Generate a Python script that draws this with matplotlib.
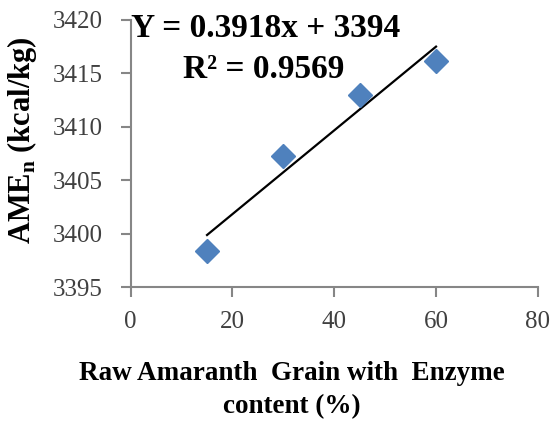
import numpy as np
import matplotlib.pyplot as plt

plt.rcParams['font.family'] = ['Liberation Serif', 'DejaVu Serif']
plt.rcParams['mathtext.fontset'] = 'custom'
plt.rcParams['mathtext.rm'] = 'Liberation Serif'
plt.rcParams['mathtext.bf'] = 'Liberation Serif:bold'

# data
enzyme_pct = [15, 30, 45, 60]
ame_n = [3398.4, 3407.3, 3413.0, 3416.2]
slope, intercept = 0.3918, 3394
eq_text = "Y = 0.3918x + 3394"
r2_text = "R² = 0.9569"

fig = plt.figure(figsize=(5.55, 4.21), dpi=100)
ax = fig.add_axes([0.2355, 0.318, 0.7335, 0.6345])

x_fit = np.array([min(enzyme_pct), max(enzyme_pct)])
ax.plot(x_fit, slope * x_fit + intercept, color='black', lw=1.6, zorder=2)
ax.plot(enzyme_pct, ame_n, 'D', color='#4F81BD', markersize=12, mec='#4F81BD', zorder=3)

ax.set_xlim(0, 80)
ax.set_ylim(3395, 3420)
ax.set_xticks(range(0, 81, 20))
ax.set_yticks(range(3395, 3421, 5))

for s in ['top', 'right']:
    ax.spines[s].set_visible(False)
for s in ['left', 'bottom']:
    ax.spines[s].set_color('#868686')
    ax.spines[s].set_linewidth(1.5)
ax.tick_params(direction='out', length=7, width=1.5, color='#868686',
               labelsize=18, labelcolor='#404040')
ax.tick_params(axis='x', pad=10)
ax.tick_params(axis='y', pad=13)

ax.set_xlabel("Raw Amaranth  Grain with  Enzyme\ncontent (%)", fontsize=19.5,
              fontweight='bold', linespacing=1.45, va='top')
ax.xaxis.set_label_coords(0.396, -0.275)
ax.set_ylabel(r"AME$_\mathbf{n}$ (kcal/kg)", fontsize=22, fontweight='bold', va='center')
ax.yaxis.set_label_coords(-0.267, 0.55)

ax.text(0.0, 0.97, eq_text, transform=ax.transAxes, fontsize=24, fontweight='bold',
        ha='left', va='center')
ax.text(0.128, 0.813, r2_text, transform=ax.transAxes, fontsize=24, fontweight='bold',
        ha='left', va='center')

fig.savefig('out.png', dpi=100)
